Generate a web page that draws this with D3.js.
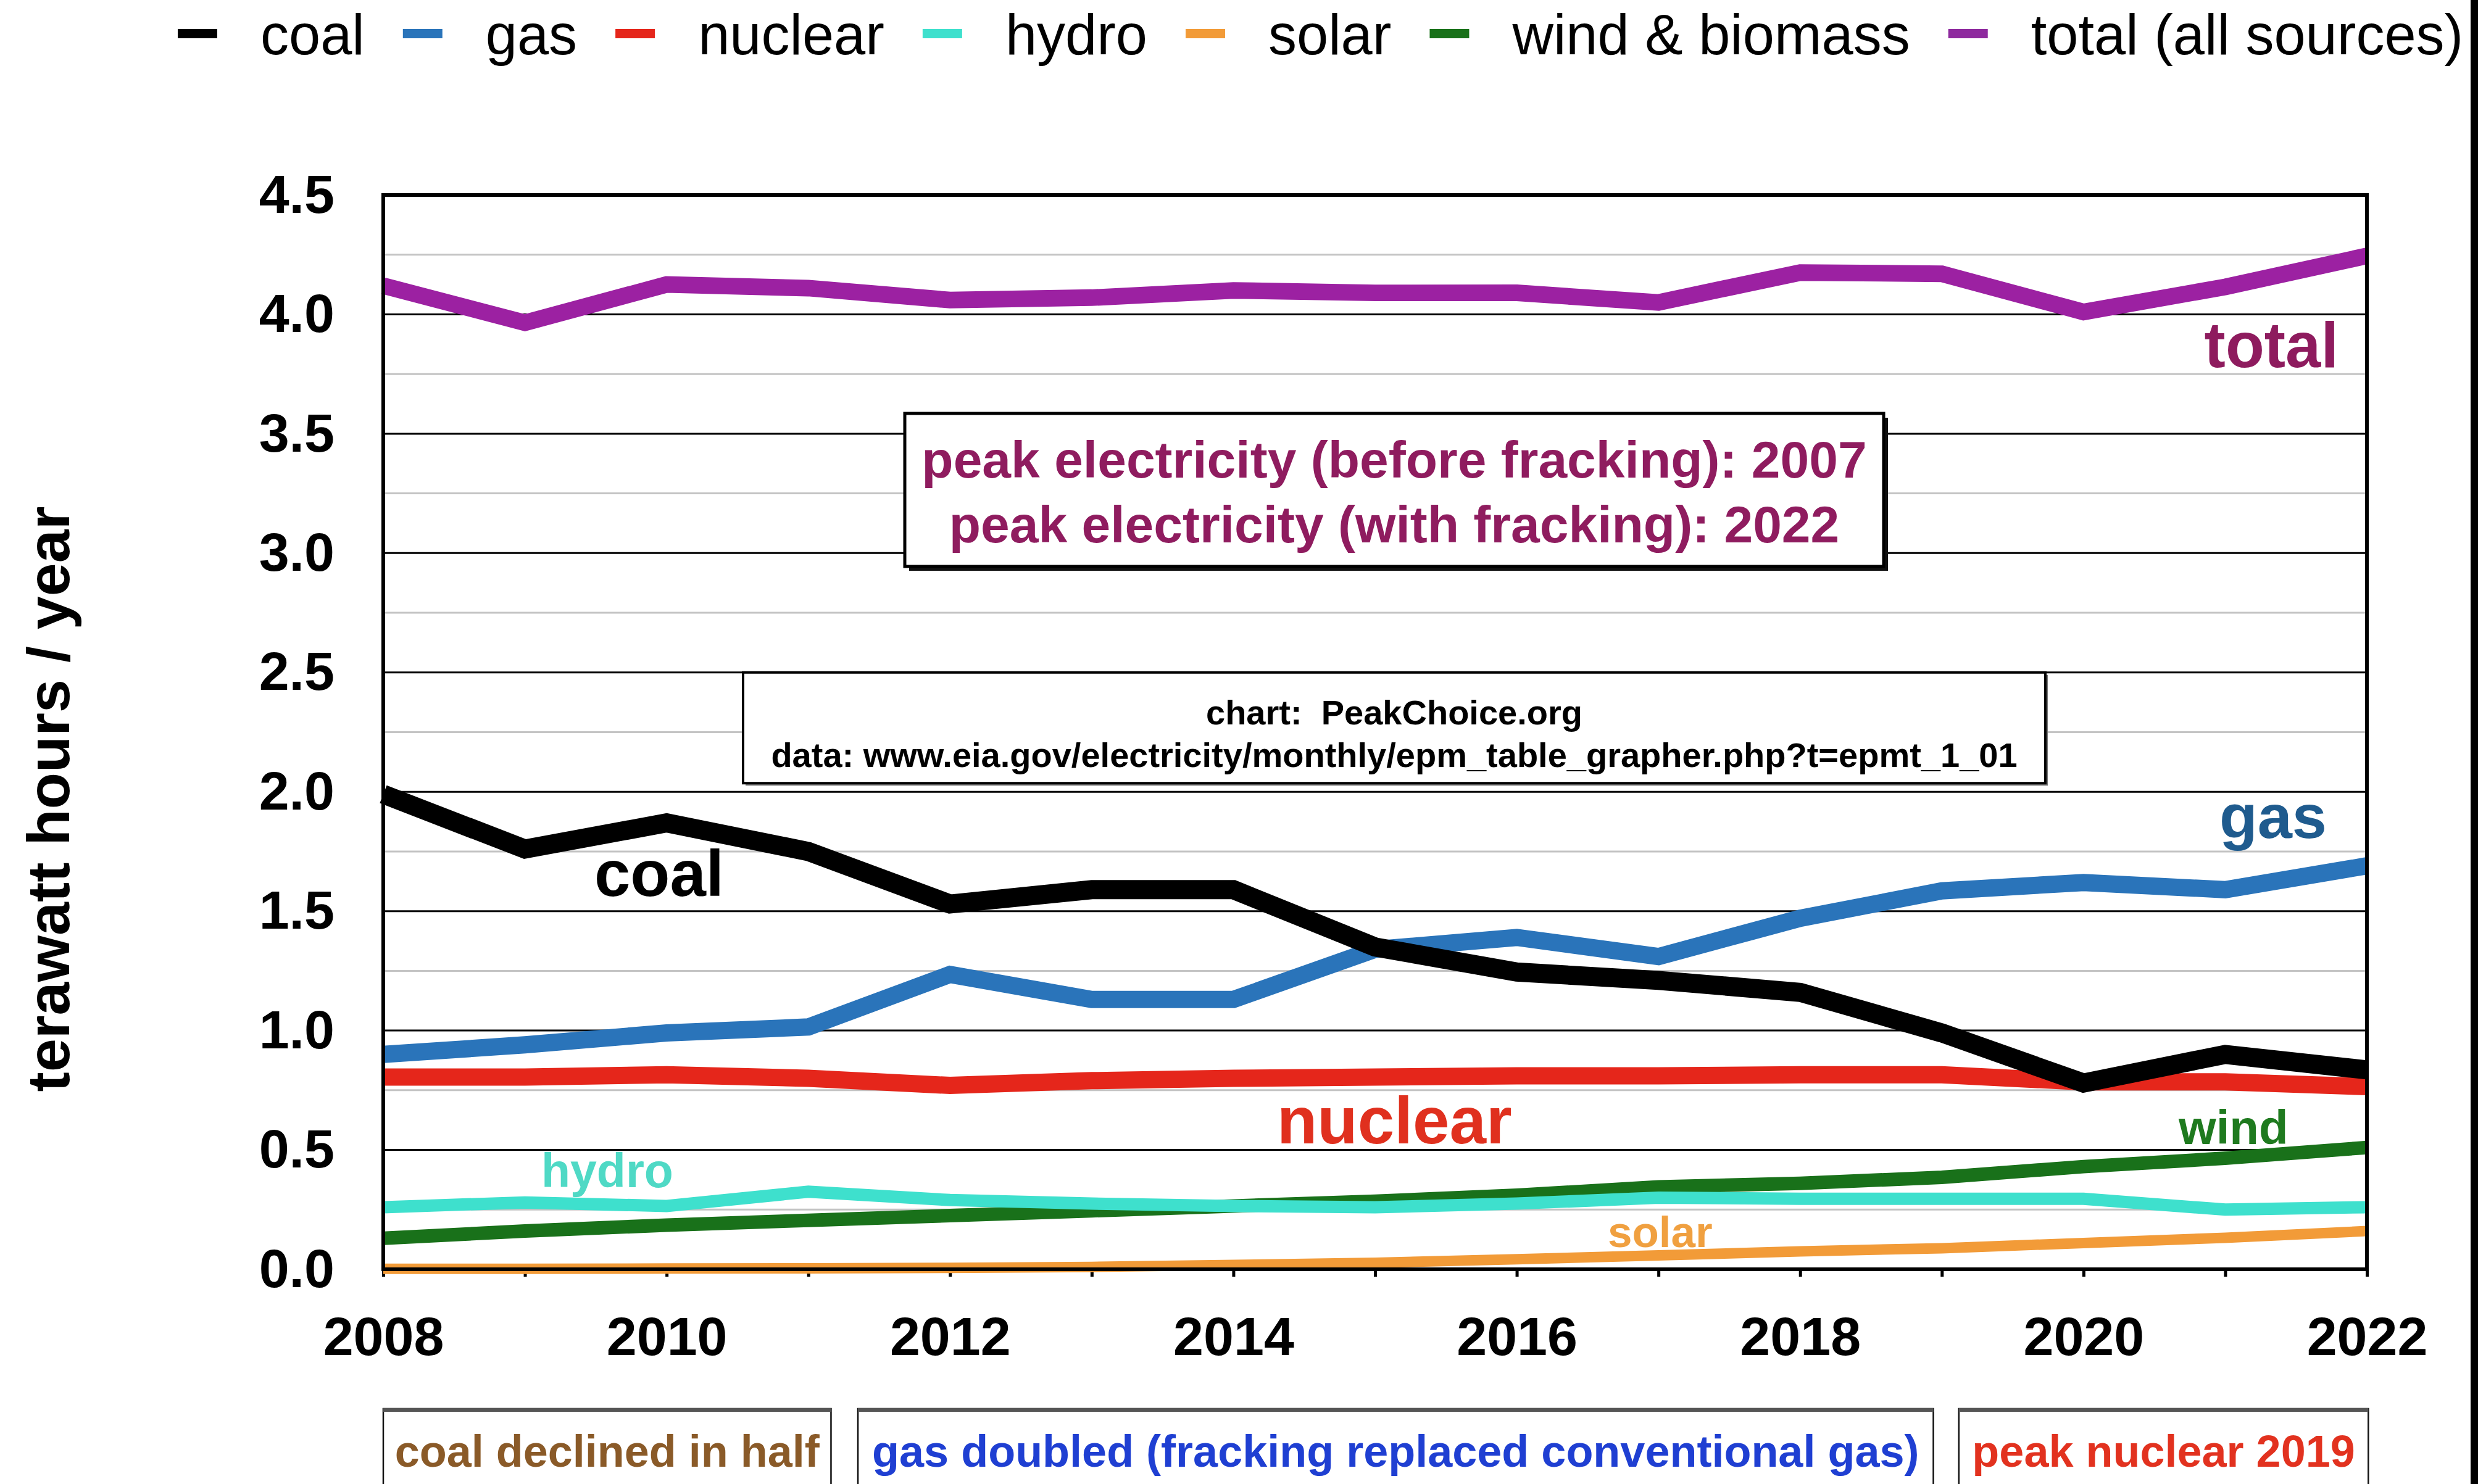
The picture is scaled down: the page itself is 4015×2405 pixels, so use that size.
<!DOCTYPE html>
<html>
<head>
<meta charset="utf-8">
<script src="https://cdn.jsdelivr.net/npm/d3@7"></script>
<style>
  body { margin: 0; background: #fff; }
  text { font-family: "Liberation Sans", Arial, Helvetica, sans-serif; }
</style>
</head>
<body>
<div id="chart"></div>
<script>
// electricity by source, 2008-2022 (thousand TWh / year)
const years = d3.range(2008, 2023)
const coal = [1.99, 1.76, 1.87, 1.75, 1.53, 1.59, 1.59, 1.35, 1.245, 1.21, 1.16, 0.99, 0.78, 0.90, 0.835]
const gas = [0.90, 0.94, 0.99, 1.015, 1.235, 1.13, 1.13, 1.34, 1.39, 1.31, 1.47, 1.585, 1.62, 1.59, 1.69]
const nuclear = [0.805, 0.805, 0.815, 0.80, 0.77, 0.79, 0.80, 0.805, 0.81, 0.81, 0.815, 0.815, 0.785, 0.785, 0.765]
const hydro = [0.26, 0.28, 0.265, 0.325, 0.29, 0.275, 0.265, 0.26, 0.275, 0.30, 0.295, 0.295, 0.295, 0.25, 0.26]
const solar = [0.002, 0.002, 0.003, 0.004, 0.006, 0.01, 0.018, 0.027, 0.042, 0.058, 0.075, 0.088, 0.11, 0.132, 0.16]
const wind = [0.13, 0.16, 0.185, 0.205, 0.225, 0.245, 0.265, 0.285, 0.31, 0.345, 0.36, 0.385, 0.43, 0.465, 0.51]
const total = [4.12, 3.965, 4.125, 4.11, 4.06, 4.07, 4.10, 4.09, 4.09, 4.05, 4.175, 4.17, 4.01, 4.115, 4.245]

const yTicks = [0, 0.5, 1, 1.5, 2, 2.5, 3, 3.5, 4, 4.5]
const yMinor = [0.25, 0.75, 1.25, 1.75, 2.25, 2.75, 3.25, 3.75, 4.25]
const xTickLabels = [2008, 2010, 2012, 2014, 2016, 2018, 2020, 2022]

const seriesNames = ['coal', 'gas', 'nuclear', 'hydro', 'solar', 'wind & biomass', 'total (all sources)']
const peakLines = ['peak electricity (before fracking): 2007', 'peak electricity (with fracking): 2022']
const sourceLines = ['chart:  PeakChoice.org', 'data: www.eia.gov/electricity/monthly/epm_table_grapher.php?t=epmt_1_01']
const bottomNotes = ['coal declined in half', 'gas doubled (fracking replaced conventional gas)', 'peak nuclear 2019']

let width = 4015
let height = 2405
let margin = { top: 316, left: 621, right: 180, bottom: 348 }

let svg = d3
  .select('#chart')
  .append('svg')
  .attr('width', width)
  .attr('height', height)

svg.append('rect').attr('width', width).attr('height', height).attr('fill', '#fff')

let x = d3.scaleLinear().domain([2008, 2022]).range([margin.left, width - margin.right])
let y = d3.scaleLinear().domain([0, 4.5]).range([height - margin.bottom, margin.top])

// gridlines
svg.append('g')
  .selectAll('line')
  .data(yMinor)
  .enter()
  .append('line')
  .attr('x1', x(2008)).attr('x2', x(2022))
  .attr('y1', d => y(d)).attr('y2', d => y(d))
  .attr('stroke', '#c4c4c4')
  .attr('stroke-width', 3)

svg.append('g')
  .selectAll('line')
  .data(yTicks)
  .enter()
  .append('line')
  .attr('x1', x(2008)).attr('x2', x(2022))
  .attr('y1', d => y(d)).attr('y2', d => y(d))
  .attr('stroke', '#000')
  .attr('stroke-width', 3)

// y axis labels
let yAxis = svg.append('g')
  .attr('transform', 'translate(' + x(2008) + ',0)')
  .call(d3.axisLeft(y).tickValues(yTicks).tickFormat(d3.format('.1f')).tickSize(0).tickPadding(79))
yAxis.select('.domain').remove()
yAxis.selectAll('text')
  .attr('font-size', 88)
  .attr('font-weight', 'bold')
  .attr('fill', '#000')
  .attr('font-family', '"Liberation Sans", Arial, sans-serif')

// x axis minor ticks every year
let xTicks = svg.append('g')
  .attr('transform', 'translate(0,' + y(0) + ')')
  .call(d3.axisBottom(x).tickValues(years).tickFormat('').tickSize(12))
xTicks.select('.domain').remove()
xTicks.selectAll('line').attr('stroke', '#000').attr('stroke-width', 5)

let xAxis = svg.append('g')
  .attr('transform', 'translate(0,' + y(0) + ')')
  .call(d3.axisBottom(x).tickValues(xTickLabels).tickFormat(d3.format('d')).tickSize(0).tickPadding(77))
xAxis.select('.domain').remove()
xAxis.selectAll('text')
  .attr('font-size', 88)
  .attr('font-weight', 'bold')
  .attr('fill', '#000')
  .attr('font-family', '"Liberation Sans", Arial, sans-serif')

// y title
svg.append('text')
  .text('terawatt hours / year')
  .attr('transform', 'translate(112,1295) rotate(-90)')
  .attr('text-anchor', 'middle')
  .attr('font-size', 97)
  .attr('font-weight', 'bold')

// source box
let sx0 = 1204, sx1 = 3314
svg.append('rect')
  .attr('x', sx0 + 4).attr('y', y(2.5) + 4)
  .attr('width', sx1 - sx0).attr('height', y(2.0) - y(2.5) - 14)
  .attr('fill', '#777')
svg.append('rect')
  .attr('x', sx0).attr('y', y(2.5))
  .attr('width', sx1 - sx0).attr('height', y(2.0) - y(2.5) - 14)
  .attr('fill', '#fff')
  .attr('stroke', '#000')
  .attr('stroke-width', 4)
svg.selectAll('.source')
  .data(sourceLines)
  .enter()
  .append('text')
  .attr('class', 'source')
  .text(d => d)
  .style('white-space', 'pre')
  .attr('x', (sx0 + sx1) / 2)
  .attr('y', (d, i) => 1174 + i * 69)
  .attr('text-anchor', 'middle')
  .attr('font-size', 56)
  .attr('font-weight', 'bold')

// peak box
let px0 = 1466, px1 = 3052, py0 = 670, py1 = 918
svg.append('rect')
  .attr('x', px0 + 7).attr('y', py0 + 7)
  .attr('width', px1 - px0).attr('height', py1 - py0)
  .attr('fill', '#111')
svg.append('rect')
  .attr('x', px0).attr('y', py0)
  .attr('width', px1 - px0).attr('height', py1 - py0)
  .attr('fill', '#fff')
  .attr('stroke', '#000')
  .attr('stroke-width', 5)
svg.selectAll('.peak')
  .data(peakLines)
  .enter()
  .append('text')
  .attr('class', 'peak')
  .text(d => d)
  .attr('x', (px0 + px1) / 2)
  .attr('y', (d, i) => 774 + i * 105)
  .attr('text-anchor', 'middle')
  .attr('font-size', 84)
  .attr('font-weight', 'bold')
  .attr('fill', '#8f1c5f')

// series lines
let series = [
  { name: 'solar', values: solar, color: '#f29b38', w: 17 },
  { name: 'wind', values: wind, color: '#19711a', w: 22 },
  { name: 'hydro', values: hydro, color: '#3ee0cd', w: 20 },
  { name: 'nuclear', values: nuclear, color: '#e5261b', w: 28 },
  { name: 'gas', values: gas, color: '#2a74ba', w: 28 },
  { name: 'coal', values: coal, color: '#000000', w: 31 },
  { name: 'total', values: total, color: '#9c21a2', w: 27 }
]

let line = d3.line()
  .x((d, i) => x(years[i]))
  .y(d => y(d))

svg.append('g')
  .selectAll('path')
  .data(series)
  .enter()
  .append('path')
  .attr('d', d => line(d.values))
  .attr('fill', 'none')
  .attr('stroke', d => d.color)
  .attr('stroke-width', d => d.w)
  .attr('stroke-linejoin', 'miter')

// plot frame
svg.append('rect')
  .attr('x', x(2008)).attr('y', y(4.5))
  .attr('width', x(2022) - x(2008)).attr('height', y(0) - y(4.5))
  .attr('fill', 'none')
  .attr('stroke', '#000')
  .attr('stroke-width', 6)

// inline series labels
let labels = [
  { text: 'total', x: 3789, y: 595, anchor: 'end', size: 103, color: '#8e1b5e' },
  { text: 'gas', x: 3770, y: 1358, anchor: 'end', size: 101, color: '#1f5b8e' },
  { text: 'coal', x: 1068, y: 1452, anchor: 'middle', size: 105, color: '#000' },
  { text: 'nuclear', x: 2069, y: 1853, anchor: 'start', size: 107, color: '#e0301e' },
  { text: 'hydro', x: 877, y: 1924, anchor: 'start', size: 77, color: '#4fd9c5' },
  { text: 'wind', x: 3530, y: 1854, anchor: 'start', size: 78, color: '#1f7a1f' },
  { text: 'solar', x: 2605, y: 2021, anchor: 'start', size: 71, color: '#f0a040' }
]
svg.selectAll('.lbl')
  .data(labels)
  .enter()
  .append('text')
  .attr('class', 'lbl')
  .text(d => d.text)
  .attr('x', d => d.x)
  .attr('y', d => d.y)
  .attr('text-anchor', d => d.anchor)
  .attr('font-size', d => d.size)
  .attr('font-weight', 'bold')
  .attr('fill', d => d.color)

// legend
let legendColors = ['#000000', '#2a74ba', '#e5261b', '#3ee0cd', '#f29b38', '#19711a', '#8e2a9e']
let lx = 284
seriesNames.forEach((name, i) => {
  svg.append('rect')
    .attr('x', lx + 4).attr('y', 47)
    .attr('width', 64).attr('height', 15)
    .attr('fill', legendColors[i])
  let t = svg.append('text')
    .text(name)
    .attr('x', lx + 138)
    .attr('y', 88)
    .attr('font-size', 92)
    .attr('fill', '#000')
  lx = lx + 138 + t.node().getComputedTextLength() + 58
})

// bottom notes
let notes = [
  { text: bottomNotes[0], from: 2008, to: 2011.16, color: '#8a5a28' },
  { text: bottomNotes[1], from: 2011.35, to: 2018.94, color: '#1f3fd2' },
  { text: bottomNotes[2], from: 2019.12, to: 2022.01, color: '#e2321f' }
]
notes.forEach(n => {
  svg.append('rect')
    .attr('x', x(n.from)).attr('y', 2283)
    .attr('width', x(n.to) - x(n.from)).attr('height', 200)
    .attr('fill', '#fff')
    .attr('stroke', '#111')
    .attr('stroke-width', 2.5)
  svg.append('line')
    .attr('x1', x(n.from)).attr('x2', x(n.to))
    .attr('y1', 2285).attr('y2', 2285)
    .attr('stroke', '#555')
    .attr('stroke-width', 6)
  svg.append('text')
    .text(n.text)
    .attr('x', (x(n.from) + x(n.to)) / 2)
    .attr('y', 2377)
    .attr('text-anchor', 'middle')
    .attr('font-size', 72)
    .attr('font-weight', 'bold')
    .attr('fill', n.color)
})

// dark strip on right edge
svg.append('rect')
  .attr('x', 4003).attr('y', 0)
  .attr('width', 12).attr('height', height)
  .attr('fill', '#000')
</script>
</body>
</html>
